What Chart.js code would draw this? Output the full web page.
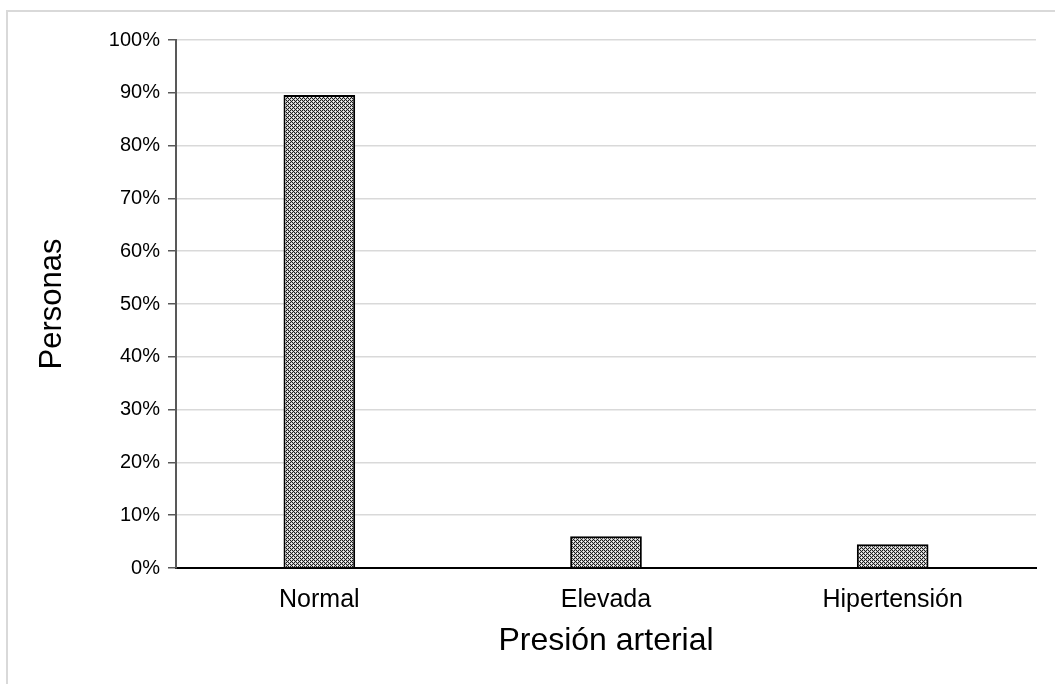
<!DOCTYPE html>
<html>
<head>
<meta charset="utf-8">
<script src="https://cdn.jsdelivr.net/npm/chart.js@4"></script>
<style>
  html, body { margin: 0; padding: 0; background: #fff; }
  #wrap { position: relative; width: 1055px; height: 684px; }
</style>
</head>
<body>
<div id="wrap"><canvas id="chart" width="1055" height="684"></canvas></div>
<script>
const categories = ['Normal', 'Elevada', 'Hipertensión'];
const personas = [0.896, 0.06, 0.045];
const yTicks = [0, 0.1, 0.2, 0.3, 0.4, 0.5, 0.6, 0.7, 0.8, 0.9, 1];

// dotted fill like the office "dotted grid" pattern
function makePattern() {
    const c = document.createElement('canvas');
    c.width = 8; c.height = 8;
    const g = c.getContext('2d');
    for (let y = 0; y < 8; y++) {
        for (let x = 0; x < 8; x++) {
            let col = ((x + y) % 2 === 0) ? '#1c1c1c' : '#c4c4c4';
            if (x % 4 === 1 && y % 4 === 1) col = '#ffffff';
            if (x % 4 === 3 && y % 4 === 3) col = '#f0f0f0';
            g.fillStyle = col;
            g.fillRect(x, y, 1, 1);
        }
    }
    return g.createPattern(c, 'repeat');
}

const frame = {
    id: 'frame',
    beforeDraw(chart) {
        const ctx = chart.ctx;
        ctx.save();
        ctx.strokeStyle = '#d9d9d9';
        ctx.lineWidth = 2;
        ctx.beginPath();
        ctx.moveTo(7, 684);
        ctx.lineTo(7, 11);
        ctx.lineTo(1055, 11);
        ctx.stroke();
        ctx.restore();
    }
};

new Chart(document.getElementById('chart'), {
    type: 'bar',
    data: {
        labels: categories,
        datasets: [{
            data: personas,
            backgroundColor: makePattern(),
            borderColor: '#000',
            borderWidth: 2,
            barPercentage: 0.25,
            categoryPercentage: 1
        }]
    },
    options: {
        responsive: false,
        animation: false,
        layout: { padding: { left: 0, top: 40, right: 19, bottom: 0 } },
        plugins: { legend: { display: false }, tooltip: { enabled: false } },
        scales: {
            x: {
                grid: { display: false, drawTicks: false },
                border: { display: true, color: '#000', width: 2 },
                ticks: {
                    color: '#000', padding: 17,
                    font: { family: 'Liberation Sans', size: 25 }
                },
                title: {
                    display: true, text: 'Presión arterial', color: '#000',
                    font: { family: 'Liberation Sans', size: 32 },
                    padding: { top: 0, bottom: 24 }
                },
                afterFit(scale) { scale.height = 116; }
            },
            y: {
                min: 0, max: 1,
                afterBuildTicks(scale) { scale.ticks = yTicks.map(v => ({ value: v })); },
                grid: { color: '#d9d9d9', lineWidth: 1.5, tickLength: 8, tickColor: '#595959' },
                border: { color: '#595959', width: 2 },
                ticks: {
                    color: '#000', padding: 8,
                    font: { family: 'Liberation Sans', size: 20 },
                    callback: v => Math.round(v * 100) + '%'
                },
                title: {
                    display: true, text: 'Personas', color: '#000',
                    font: { family: 'Liberation Sans', size: 31 },
                    padding: { top: 34, bottom: 0 }
                },
                afterFit(scale) { scale.width = 176; }
            }
        }
    },
    plugins: [frame]
});
</script>
</body>
</html>
